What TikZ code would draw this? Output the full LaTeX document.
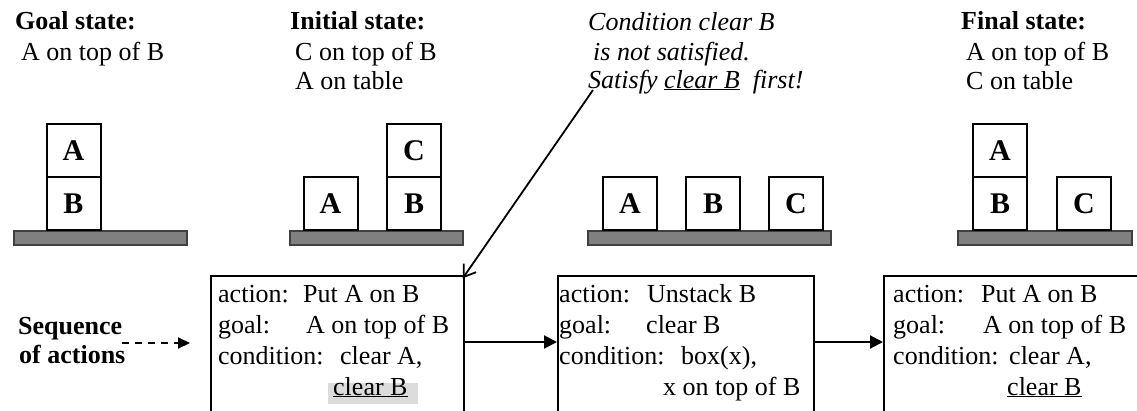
\documentclass[tikz,border=0pt]{standalone}
\usepackage{fontspec}
\setmainfont{Liberation Serif}
\usetikzlibrary{arrows.meta}
\definecolor{tablegray}{RGB}{128,128,128}
\definecolor{markgray}{RGB}{220,220,220}
\begin{document}
\begin{tikzpicture}[x=1pt,y=-1pt,
  txt/.style={anchor=base west, inner sep=0pt, font=\fontsize{26}{30}\selectfont},
  hd/.style={txt, font=\fontsize{26}{30}\selectfont\bfseries},
  note/.style={txt, font=\fontsize{26}{30}\selectfont\itshape},
  blk/.style={draw, line width=2pt, fill=white, inner sep=0pt,
    minimum width=54pt, minimum height=53pt,
    font=\fontsize{30}{30}\selectfont\bfseries},
  tabletop/.style={draw=black!75, line width=1.1pt, fill=tablegray},
  actbox/.style={draw, line width=2pt, inner sep=0pt, anchor=north west,
    minimum height=200pt},
  flow/.style={line width=2pt, -{Triangle[length=13pt,width=13pt]}},
]
\useasboundingbox (0,0) rectangle (1137,410);
\clip (0,0) rectangle (1137,410);

% --- state descriptions ---
\node[hd]  (gT)  at (15,29) {Goal state:};
\node[txt] (g1)  at (21,60) {A on top of B};

\node[hd]  (iT)  at (290,29) {Initial state:};
\node[txt] (i1)  at (295,60) {C on top of B};
\node[txt] (i2)  at (295,89) {A on table};

\node[note] (n1) at (588,30) {Condition clear B};
\node[note] (n2) at (593,60) {is not satisfied.};
\node[note] (n3) at (588,88) {Satisfy \underline{clear B}\ \ first!};

\node[hd]  (fT)  at (961,29) {Final state:};
\node[txt] (f1)  at (966,60) {A on top of B};
\node[txt] (f2)  at (966,89) {C on table};

% --- tables ---
\draw[tabletop] (14,231) rectangle (187,245);
\draw[tabletop] (290,231) rectangle (463,245);
\draw[tabletop] (588,231) rectangle (831,245);
\draw[tabletop] (958,231) rectangle (1132,245);

% --- blocks ---
\node[blk] (gA) at (73.5,150.5) {A};
\node[blk] (gB) at (73.5,203.5) {B};

\node[blk] (iA) at (330.5,203.5) {A};
\node[blk] (iB) at (414,203.5) {B};
\node[blk] (iC) at (414,150.5) {C};

\node[blk] (mA) at (630,203.5) {A};
\node[blk] (mB) at (713,203.5) {B};
\node[blk] (mC) at (796,203.5) {C};

\node[blk] (fA) at (1000,150.5) {A};
\node[blk] (fB) at (1000,203.5) {B};
\node[blk] (fC) at (1084,203.5) {C};

% --- sequence of actions ---
\node[hd] (s1) at (18,334) {Sequence};
\node[hd] (s2) at (19,363) {of actions};

\node[actbox, minimum width=253pt] (b1) at (210,275) {};
\node[actbox, minimum width=256pt] (b2) at (557,275) {};
\node[actbox, minimum width=300pt] (b3) at (883,275) {};

\fill[markgray] (328,383) rectangle (418,404);

\node[txt] (b1a) at (218,302) {action:};
\node[txt] (b1b) at (303,302) {Put A on B};
\node[txt] (b1c) at (218,333) {goal:};
\node[txt] (b1d) at (306,333) {A on top of B};
\node[txt] (b1e) at (218,364) {condition:};
\node[txt] (b1f) at (340,364) {clear A,};
\node[txt] (b1g) at (333,395) {\underline{clear B}};

\node[txt] (b2a) at (559,302) {action:};
\node[txt] (b2b) at (647,302) {Unstack B};
\node[txt] (b2c) at (559,333) {goal:};
\node[txt] (b2d) at (646,333) {clear B};
\node[txt] (b2e) at (559,364) {condition:};
\node[txt] (b2f) at (681,364) {box(x),};
\node[txt] (b2g) at (663,395) {x on top of B};

\node[txt] (b3a) at (893,302) {action:};
\node[txt] (b3b) at (981,302) {Put A on B};
\node[txt] (b3c) at (893,333) {goal:};
\node[txt] (b3d) at (983,333) {A on top of B};
\node[txt] (b3e) at (893,364) {condition:};
\node[txt] (b3f) at (1009,364) {clear A,};
\node[txt] (b3g) at (1007,395) {\underline{clear B}};

% --- connectors ---
\coordinate (seqout) at (122,343);
\draw[line width=2pt, dash pattern=on 7pt off 6pt, shorten >=20pt,
  -{Triangle[length=12pt,width=11pt]}] (seqout) -- (b1.west |- seqout);

\path (b1.north east) ++(0,67) coordinate (b1out);
\path (b2.north east) ++(0,67) coordinate (b2out);
\draw[flow] (b1out) -- (b2.west |- b1out);
\draw[flow] (b2out) -- (b3.west |- b2out);

\coordinate (noteout) at (593,90);
\draw[line width=1.8pt, shorten >=-4pt,
  -{Straight Barb[length=11pt,width=15pt,line width=1.8pt]}]
  (noteout) -- (b1.north east);
\end{tikzpicture}
\end{document}
